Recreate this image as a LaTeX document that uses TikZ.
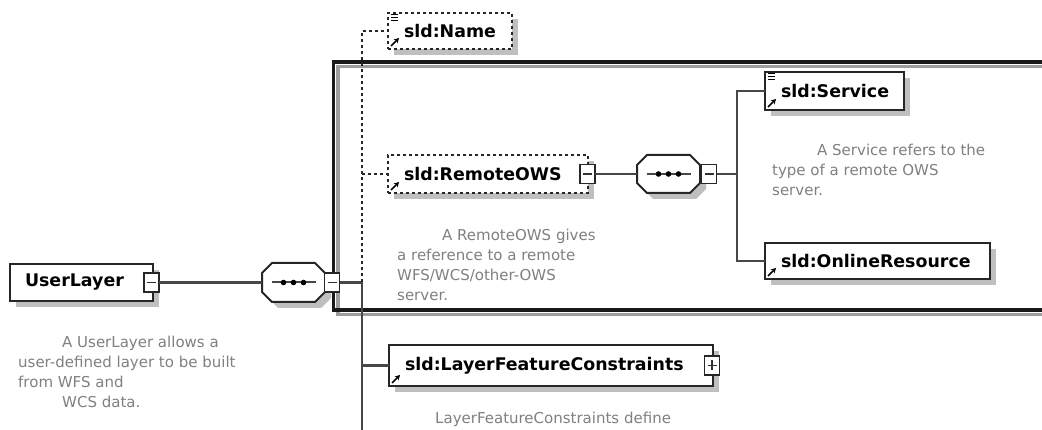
\documentclass[tikz,border=0pt]{standalone}
\usepackage{fontspec}
\setmainfont{DejaVu Sans}
\usetikzlibrary{calc,shadows,arrows.meta}

\tikzset{
  shade6/.style={drop shadow={shadow xshift=6pt,shadow yshift=-6pt,fill=black!25,opacity=1}},
  elem/.style={draw=black!85, line width=2.3pt, fill=white, inner xsep=0pt, inner ysep=0pt,
    outer sep=0pt, anchor=north west, align=left, shade6,
    font=\fontsize{17.4}{20}\selectfont\bfseries},
  optelem/.style={elem, dash pattern=on 3pt off 3pt},
  tog/.style={draw=black!85, line width=1.6pt, fill=white, minimum width=15pt,
    minimum height=19pt, inner sep=0pt, outer sep=0pt},
  seqbox/.style={minimum width=63pt, inner sep=0pt, outer sep=0pt},
  conn/.style={draw=black!72, line width=2.1pt},
  dconn/.style={conn, draw=black!85, dash pattern=on 3pt off 3pt},
  note/.style={text=black!50, align=left, anchor=north west, inner sep=0pt,
    font=\fontsize{15}{20}\selectfont},
  bigframe/.style={line width=3.2pt},
}

% minus / plus glyph inside a toggle square
\newcommand\minusglyph[1]{\draw[line width=1.6pt, black!80] ($(#1.west)+(3,0)$) -- ($(#1.east)+(-3,0)$);}
\newcommand\plusglyph[1]{\minusglyph{#1}\draw[line width=1.6pt, black!80] ($(#1.center)+(0,-5)$) -- ($(#1.center)+(0,5)$);}
% sequence compositor: chamfered box with a dotted bar
\newcommand\seqshape[1]{%
  \draw[line width=2pt, draw=black!85, fill=white, shade6]
    ($(#1.north west)+(10,0)$) -- ($(#1.north east)+(-10,0)$) -- ($(#1.north east)+(0,10)$)
    -- ($(#1.south east)+(0,-10)$) -- ($(#1.south east)+(-10,0)$) -- ($(#1.south west)+(10,0)$)
    -- ($(#1.south west)+(0,-10)$) -- ($(#1.north west)+(0,10)$) -- cycle;
  \draw[line width=2pt, black!72] ($(#1.center)+(-22,0)$) -- ($(#1.center)+(22,0)$);
  \foreach \d in {-10,0,10} \fill[black] ($(#1.center)+(\d,0)$) circle (2.8pt);
}
% reference arrow in the lower left corner of an element
\newcommand\refarrow[1]{\draw[line width=1.6pt, -{Stealth[length=5pt,width=5.5pt]}] ($(#1.south west)+(3,-3)$) -- ++(8,-8);}
% annotation marker in the upper left corner of an element
\newcommand\docmark[1]{\foreach \k in {2,5,8} \draw[line width=1pt] ($(#1.north west)+(3,\k)$) -- ++(7,0);}

\begin{document}
\begin{tikzpicture}[x=1pt,y=-1pt]
\clip (0,0) rectangle (1042,430);
\fill[white] (0,0) rectangle (1042,430);

% frame around the RemoteOWS group
\draw[bigframe, black!38] (338,66.5) rectangle (1066,314.5);
\draw[bigframe, black!90] (333.5,62) rectangle (1061,310);

% elements
\node[elem, minimum width=143pt, minimum height=37pt, text width=113pt] (ul) at (10,264) {UserLayer};
\node[tog] (ulT) at (151.5,282.5) {};
\minusglyph{ulT}

\node[seqbox, minimum height=39pt] (seq1) at (293.5,282.5) {};
\seqshape{seq1}
\node[tog] (seq1T) at (332,282.5) {};
\minusglyph{seq1T}

\node[optelem, minimum width=124pt, minimum height=36pt, text width=92pt] (name) at (388,13) {sld:Name};
\docmark{name}\refarrow{name}

\node[optelem, minimum width=200pt, minimum height=38pt, text width=168pt] (remote) at (388,155) {sld:RemoteOWS};
\refarrow{remote}
\node[tog] (remoteT) at (587.5,174) {};
\minusglyph{remoteT}

\node[seqbox, minimum height=38pt] (seq2) at (668.5,174) {};
\seqshape{seq2}
\node[tog] (seq2T) at (709,174) {};
\minusglyph{seq2T}

\node[elem, minimum width=139pt, minimum height=38pt, text width=107pt] (service) at (765,72) {sld:Service};
\docmark{service}\refarrow{service}

\node[elem, minimum width=225pt, minimum height=36pt, text width=193pt] (online) at (765,243) {sld:OnlineResource};
\refarrow{online}

\node[elem, minimum width=324pt, minimum height=41pt, text width=292pt] (lfc) at (389,345) {sld:LayerFeatureConstraints};
\refarrow{lfc}
\node[tog] (lfcT) at (712,365.5) {};
\plusglyph{lfcT}

% connectors
\coordinate (spTop) at (362,31);
\coordinate (spine) at (362,282.5);
\coordinate (spEnd) at (362,440);
\coordinate (br) at (737,174);

\draw[conn] (ulT.east) -- (seq1.west);
\draw[conn] (seq1T.east) -- (spine);
\draw[conn] (spine) -- (spEnd);
\draw[dconn] (spine) -- (spTop) -- (name.west);
\draw[dconn] (remote.west -| spine) -- (remote.west);
\draw[conn] (lfc.west -| spine) -- (lfc.west);
\draw[conn] (remoteT.east) -- (seq2.west);
\draw[conn] (seq2T.east) -- (br);
\draw[conn] (service.west) -- (service.west -| br) -- (online.west -| br) -- (online.west);

% annotations
\node[note] (ulNote) at (18,336) {\hspace*{44pt}A UserLayer allows a\\user-defined layer to be built\\from WFS and\\\hspace*{44pt}WCS data.};
\node[note] (remoteNote) at (397,229) {\hspace*{45pt}A RemoteOWS gives\\a reference to a remote\\WFS/WCS/other-OWS\\server.};
\node[note] (serviceNote) at (772,144) {\hspace*{45pt}A Service refers to the\\type of a remote OWS\\server.};
\node[note] (lfcNote) at (435,412) {LayerFeatureConstraints define};
\end{tikzpicture}
\end{document}
